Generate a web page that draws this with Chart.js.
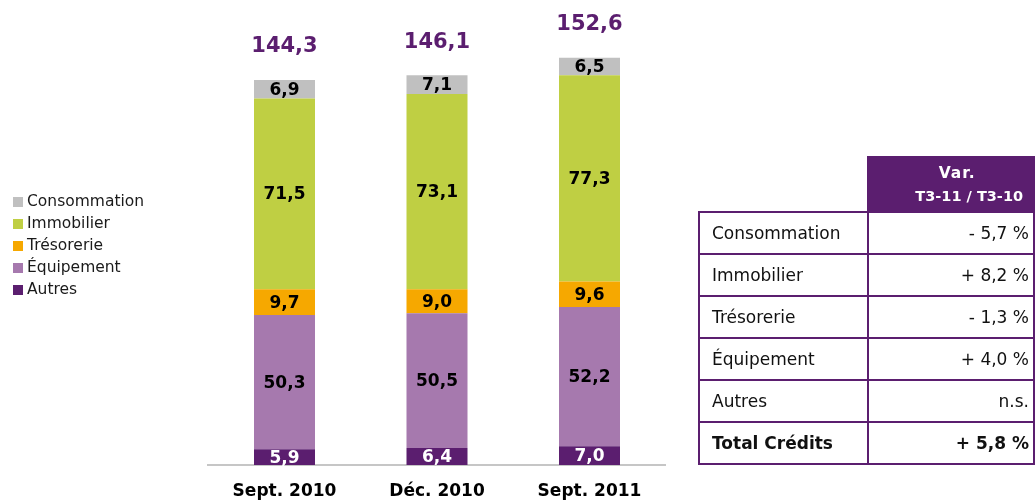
<!DOCTYPE html>
<html lang="fr">
<head>
<meta charset="utf-8">
<title>Encours de crédits</title>
<script src="https://cdn.jsdelivr.net/npm/chart.js@4/dist/chart.umd.min.js"></script>
<style>
  html, body { margin: 0; padding: 0; width: 1035px; height: 502px; overflow: hidden; background: #fff; }
  body { position: relative; font-family: "DejaVu Sans", Verdana, sans-serif; }
  #wrap { position: absolute; left: 0; top: 0; width: 700px; height: 502px; }
  #legend { position: absolute; left: 13px; top: 190px; margin: 0; padding: 0; list-style: none; }
  #legend li { height: 22px; line-height: 22px; font-size: 15.5px; color: #1a1a1a; white-space: nowrap; }
  #legend .sw { display: inline-block; width: 10px; height: 10px; margin-right: 4px; vertical-align: -0.5px; }
  #var { position: absolute; left: 698px; top: 156px; border-collapse: collapse; table-layout: fixed; }
  #var td, #var th { border: 2px solid #5b1e6f; padding: 0; }
  #var td { height: 40px; font-size: 17px; color: #111; }
  #var td.lab { width: 158px; padding-left: 12px; }
  #var td.val { width: 166px; text-align: right; padding-right: 4px; }
  #var tr.tot td { font-weight: bold; }
  #var th.blank { border: none; }
  #var th.head { height: 53px; background: #5b1e6f; color: #fff; font-size: 14.5px; font-weight: bold; line-height: 23px; }
  #var th.head div { padding-left: 36px; text-align: center; }
  #var th.head div.first { padding-right: 24px; font-size: 15.5px; letter-spacing: 1px; }
</style>
</head>
<body>
<div id="wrap"><canvas id="chart" width="700" height="502"></canvas></div>
<ul id="legend"></ul>
<table id="var"><thead><tr><th class="blank"></th><th class="head"></th></tr></thead><tbody></tbody></table>
<script>
// Encours par catégorie (Md€)
const categories = ['Sept. 2010', 'Déc. 2010', 'Sept. 2011'];
const autres = [5.9, 6.4, 7.0];
const equipement = [50.3, 50.5, 52.2];
const tresorerie = [9.7, 9.0, 9.6];
const immobilier = [71.5, 73.1, 77.3];
const consommation = [6.9, 7.1, 6.5];

// Tableau des variations
const varHeader = ['Var.', 'T3-11 / T3-10'];
const varLabels = ['Consommation', 'Immobilier', 'Trésorerie', 'Équipement', 'Autres', 'Total Crédits'];
const varValues = ['- 5,7 %', '+ 8,2 %', '- 1,3 %', '+ 4,0 %', 'n.s.', '+ 5,8 %'];

const PURPLE = '#5b1e6f';
const series = [
  { label: 'Autres', data: autres, color: PURPLE, text: '#ffffff' },
  { label: 'Équipement', data: equipement, color: '#a679ae', text: '#000000' },
  { label: 'Trésorerie', data: tresorerie, color: '#f6a800', text: '#000000' },
  { label: 'Immobilier', data: immobilier, color: '#bfcf43', text: '#000000' },
  { label: 'Consommation', data: consommation, color: '#c0c0c0', text: '#000000' }
];

const fmt = v => v.toFixed(1).replace('.', ',');

// Valeurs dans chaque segment + total au-dessus de chaque barre
const valueLabels = {
  id: 'valueLabels',
  afterDatasetsDraw(chart) {
    const ctx = chart.ctx;
    ctx.save();
    ctx.textAlign = 'center';
    ctx.textBaseline = 'middle';
    ctx.font = 'bold 17px "DejaVu Sans"';
    chart.data.datasets.forEach((ds, i) => {
      const meta = chart.getDatasetMeta(i);
      meta.data.forEach((el, j) => {
        ctx.fillStyle = series[i].text;
        ctx.fillText(fmt(ds.data[j]), el.x, (el.y + el.base) / 2 + 1);
      });
    });
    const last = chart.getDatasetMeta(chart.data.datasets.length - 1);
    ctx.font = 'bold 21px "DejaVu Sans"';
    ctx.fillStyle = PURPLE;
    categories.forEach((c, j) => {
      const total = chart.data.datasets.reduce((s, ds) => s + ds.data[j], 0);
      const el = last.data[j];
      ctx.fillText(fmt(total), el.x, el.y - 33);
    });
    ctx.restore();
  }
};

Chart.defaults.font.family = '"DejaVu Sans", Verdana, sans-serif';

new Chart(document.getElementById('chart'), {
  type: 'bar',
  data: {
    labels: categories,
    datasets: series.map(s => ({
      label: s.label,
      data: s.data,
      backgroundColor: s.color,
      borderWidth: 0,
      barPercentage: 0.4,
      categoryPercentage: 1
    }))
  },
  options: {
    responsive: false,
    animation: false,
    layout: { padding: { left: 208.25, right: 34.25, top: 11.4, bottom: 0 } },
    plugins: { legend: { display: false }, tooltip: { enabled: false } },
    scales: {
      x: {
        stacked: true,
        grid: { display: false, drawTicks: false },
        border: { display: true, color: '#c6c6c6', width: 2 },
        ticks: { color: '#000', font: { size: 17, weight: 'bold' }, padding: 16 },
        afterFit(scale) { scale.height = 37; }
      },
      y: { stacked: true, display: false, min: 0, max: 170 }
    }
  },
  plugins: [valueLabels]
});

// Légende (ordre du haut vers le bas des barres)
const legend = document.getElementById('legend');
series.slice().reverse().forEach(s => {
  const li = document.createElement('li');
  const sw = document.createElement('span');
  sw.className = 'sw';
  sw.style.background = s.color;
  li.appendChild(sw);
  li.appendChild(document.createTextNode(s.label));
  legend.appendChild(li);
});

// Tableau
const head = document.querySelector('#var th.head');
varHeader.forEach((t, i) => {
  const d = document.createElement('div');
  if (i === 0) d.className = 'first';
  d.textContent = t;
  head.appendChild(d);
});
const tbody = document.querySelector('#var tbody');
varLabels.forEach((lab, i) => {
  const tr = document.createElement('tr');
  if (i === varLabels.length - 1) tr.className = 'tot';
  const a = document.createElement('td');
  a.className = 'lab';
  a.textContent = lab;
  const b = document.createElement('td');
  b.className = 'val';
  b.textContent = varValues[i];
  tr.appendChild(a);
  tr.appendChild(b);
  tbody.appendChild(tr);
});
</script>
</body>
</html>
